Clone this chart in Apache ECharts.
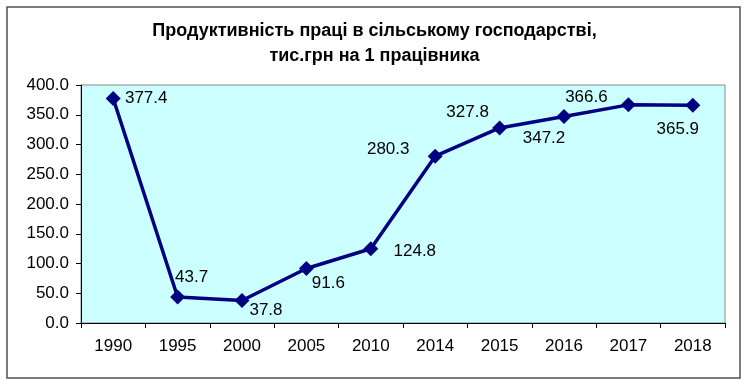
<!DOCTYPE html>
<html>
<head>
<meta charset="utf-8">
<script src="https://cdn.jsdelivr.net/npm/echarts@6/dist/echarts.min.js"></script>
<style>
html,body{margin:0;padding:0;background:#fff;}
#c{width:749px;height:387px;}
</style>
</head>
<body>
<div id="c"></div>
<script>
const categories = ['1990','1995','2000','2005','2010','2014','2015','2016','2017','2018'];
const values = [377.4, 43.7, 37.8, 91.6, 124.8, 280.3, 327.8, 347.2, 366.6, 365.9];
const yTicks = [0, 50, 100, 150, 200, 250, 300, 350, 400];

// label placement (style only): offset of label centre from marker centre, px
const labelOffsets = [[33,0],[14,-20],[24,10],[22,15],[44,3],[-47,-7],[-32,-16],[-20,22],[-42,-8],[-15,24]];

const FONT = "'Liberation Sans', Arial, sans-serif";
const chart = echarts.init(document.getElementById('c'));
chart.setOption({
  animation: false,
  backgroundColor: '#ffffff',
  title: {
    text: 'Продуктивність праці в сільському господарстві,\nтис.грн на 1 працівника',
    left: 'center',
    top: 14,
    textStyle: { fontFamily: FONT, fontSize: 18, fontWeight: 'bold', color: '#000', lineHeight: 25 }
  },
  graphic: [{
    type: 'rect',
    shape: { x: 7, y: 7, width: 733, height: 371 },
    style: { fill: 'none', stroke: '#505050', lineWidth: 1.5 },
    silent: true
  }],
  grid: {
    left: 81, right: 24, top: 85, bottom: 64,
    show: true, backgroundColor: '#ccffff', borderColor: '#888888', borderWidth: 1
  },
  xAxis: {
    type: 'category',
    data: categories,
    boundaryGap: true,
    axisLine: { show: true, lineStyle: { color: '#000', width: 1 } },
    axisTick: { show: true, alignWithLabel: false, length: 5, inside: false, lineStyle: { color: '#000' } },
    axisLabel: { fontFamily: FONT, fontSize: 17, color: '#000', margin: 15, interval: 0 },
    splitLine: { show: false }
  },
  yAxis: {
    type: 'value',
    min: yTicks[0], max: yTicks[yTicks.length - 1], interval: yTicks[1] - yTicks[0],
    axisLine: { show: true, lineStyle: { color: '#000', width: 1 } },
    axisTick: { show: true, length: 5, inside: false, lineStyle: { color: '#000' } },
    axisLabel: { fontFamily: FONT, fontSize: 17, color: '#000', margin: 12, formatter: v => v.toFixed(1) },
    splitLine: { show: false }
  },
  series: [{
    type: 'line',
    data: values.map((v, i) => ({
      value: v,
      label: { offset: labelOffsets[i] }
    })),
    symbol: 'diamond',
    symbolSize: 15,
    lineStyle: { color: '#000080', width: 3.5 },
    itemStyle: { color: '#000080' },
    label: {
      show: true,
      position: 'inside',
      align: 'center',
      verticalAlign: 'middle',
      fontFamily: FONT, fontSize: 17, color: '#000',
      formatter: p => p.value.toFixed(1)
    },
    z: 3
  }]
});
</script>
</body>
</html>
